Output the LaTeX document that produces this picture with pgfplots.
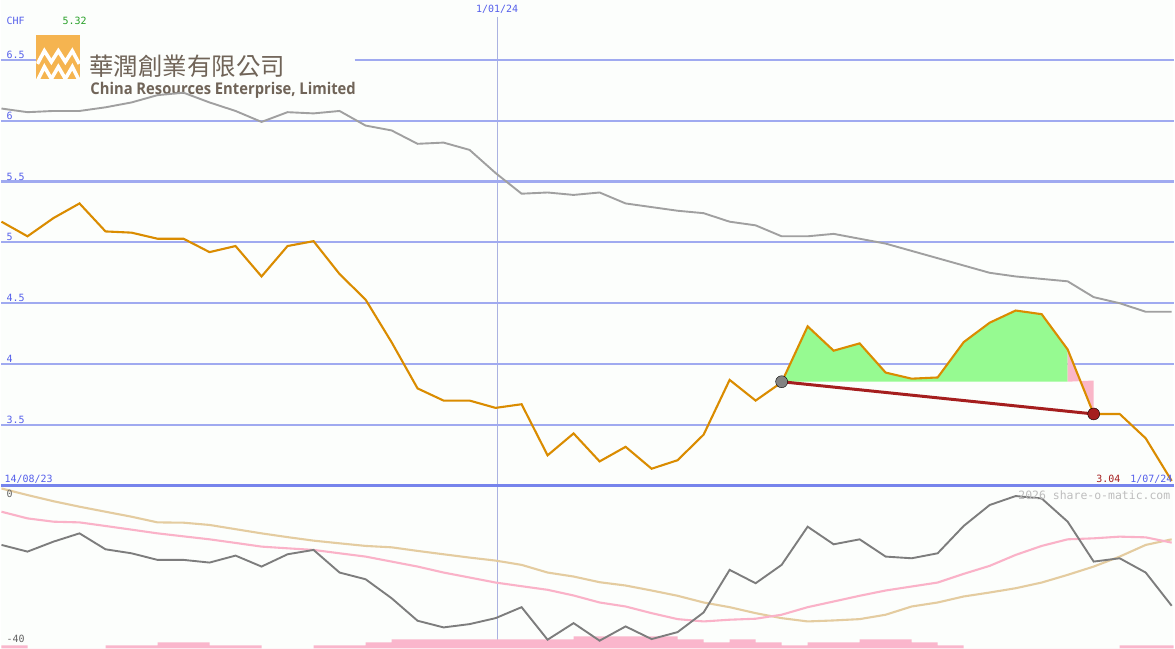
\documentclass[border=0pt]{standalone}
\usepackage{fontspec}
\usepackage{graphicx}
\usepackage{pgfplots}
\usepackage{pgfplotstable}
\pgfplotsset{compat=1.18}
\setmonofont{DejaVu Sans Mono}
\newfontfamily\cjk{Noto Sans CJK TC}
\newfontfamily\logofont{Open Sans}

\definecolor{bgcol}{RGB}{252,254,252}
\definecolor{gridc}{RGB}{160,170,240}
\definecolor{basec}{RGB}{118,132,236}
\definecolor{lbl}{RGB}{85,95,235}
\definecolor{orangec}{RGB}{218,140,0}
\definecolor{greyup}{RGB}{160,160,160}
\definecolor{greydark}{RGB}{125,125,125}
\definecolor{pinkl}{RGB}{250,178,200}
\definecolor{tanc}{RGB}{228,204,160}
\definecolor{greenf}{RGB}{150,250,145}
\definecolor{pinkf}{RGB}{250,182,200}
\definecolor{trendc}{RGB}{165,30,30}
\definecolor{dotgrey}{RGB}{130,130,130}
\definecolor{volc}{RGB}{250,182,204}
\definecolor{logoorange}{RGB}{245,180,80}
\definecolor{logotext}{RGB}{112,100,88}
\definecolor{wm}{RGB}{190,190,190}
\definecolor{greenlbl}{RGB}{40,160,40}
\definecolor{vline}{RGB}{170,178,225}
\definecolor{lowlbl}{RGB}{100,100,100}

\newcommand\lab{\ttfamily\fontsize{10bp}{10bp}\selectfont}

\pgfplotstableread{
i or gr osc pk tan
0 5.17 6.10 -12.33 -3.27 3.07
1 5.05 6.07 -14.15 -5.09 1.28
2 5.20 6.08 -11.43 -5.99 -0.41
3 5.32 6.08 -9.17 -6.18 -1.90
4 5.09 6.11 -13.52 -7.16 -3.27
5 5.08 6.15 -14.61 -8.16 -4.63
6 5.03 6.21 -16.41 -9.17 -6.18
7 5.03 6.23 -16.41 -9.99 -6.26
8 4.92 6.15 -17.14 -10.80 -6.88
9 4.97 6.08 -15.24 -11.78 -8.03
10 4.72 5.99 -18.23 -12.79 -9.17
11 4.97 6.07 -14.88 -13.25 -10.20
12 5.01 6.06 -13.69 -13.69 -11.16
13 4.74 6.08 -19.86 -14.61 -11.89
14 4.53 5.96 -21.69 -15.51 -12.60
15 4.18 5.92 -26.86 -16.87 -12.98
16 3.80 5.81 -33.01 -18.23 -13.96
17 3.70 5.82 -34.83 -19.86 -14.88
18 3.70 5.76 -33.93 -21.22 -15.78
19 3.64 5.57 -32.30 -22.59 -16.60
20 3.67 5.40 -29.31 -23.59 -17.77
21 3.25 5.41 -38.18 -24.57 -19.86
22 3.43 5.39 -33.66 -26.12 -20.95
23 3.20 5.41 -38.45 -28.03 -22.50
24 3.32 5.32 -34.56 -29.12 -23.40
25 3.14 5.29 -38.01 -30.94 -24.76
26 3.21 5.26 -36.11 -32.57 -26.20
27 3.42 5.24 -30.75 -33.20 -28.03
28 3.87 5.17 -19.13 -32.73 -29.31
29 3.70 5.14 -22.78 -32.46 -30.94
30 3.85 5.05 -17.77 -31.37 -32.30
31 4.31 5.05 -7.35 -29.31 -33.20
32 4.11 5.07 -12.16 -27.76 -32.93
33 4.17 5.03 -10.80 -26.20 -32.57
34 3.93 4.99 -15.51 -24.76 -31.37
35 3.88 4.93 -15.97 -23.67 -29.12
36 3.89 4.87 -14.61 -22.59 -28.03
37 4.18 4.81 -7.16 -20.22 -26.39
38 4.34 4.75 -1.44 -18.04 -25.31
39 4.44 4.72 1.01 -15.05 -24.14
40 4.41 4.70 0.35 -12.60 -22.59
41 4.12 4.68 -5.99 -10.80 -20.49
42 3.59 4.55 -16.87 -10.53 -18.23
43 3.59 4.50 -15.97 -10.07 -15.51
44 3.39 4.43 -19.86 -10.26 -12.33
45 3.04 4.43 -28.93 -11.70 -10.80
}\data

\begin{document}
\begin{tikzpicture}
\begin{scope}[x=1bp,y=-1bp]
\fill[bgcol] (0,0) rectangle (1175,650);
\draw[vline, line width=1.2bp] (497,17) -- (497,643);
% logo
\fill[logoorange] (35,35) rectangle (79,79);
\begin{scope}
\clip (35,35) rectangle (79,79);
\draw[white, line width=3.6bp] (36,64) -- (43,51) -- (50,62) -- (57,51) -- (64,62) -- (71,51) -- (78,64);
\draw[white, line width=3.6bp] (36,81) -- (43,67) -- (50,79) -- (57,67) -- (64,79) -- (71,67) -- (78,81);
\end{scope}
\node[anchor=base west, inner sep=0, text=logotext, font=\cjk\fontsize{24.5bp}{25bp}\selectfont] at (88,76) {華潤創業有限公司};
\node[anchor=base west, inner sep=0, text=logotext] at (89,95) {\resizebox{266bp}{12.3bp}{\logofont\bfseries China Resources Enterprise, Limited}};
\end{scope}

\begin{axis}[at={(0bp,0bp)}, anchor=north west, width=1175bp, height=487bp, scale only axis,
  xmin=0, xmax=45.07, ymin=3, ymax=6.9918, hide axis, clip=false]
\addplot[gridc, line width=2.1bp, mark=none] coordinates {(0,6.5) (1.34,6.5)};
\addplot[gridc, line width=2.1bp, mark=none] coordinates {(13.58,6.5) (45.07,6.5)};
\pgfplotsinvokeforeach{3.5,4,4.5,5,5.5,6}{
  \addplot[gridc, line width=2.1bp, mark=none] coordinates {(0,#1) (45.07,#1)};
}
\addplot[basec, line width=3bp, mark=none] coordinates {(0,3) (45.07,3)};
\addplot[greyup, line width=1.9bp, mark=none] table[x=i,y=gr]{\data};
\addplot[fill=greenf, draw=none, mark=none] coordinates {(30,3.855) (31,4.31) (32,4.11) (33,4.17) (34,3.93) (35,3.88) (36,3.89) (37,4.18) (38,4.34) (39,4.44) (40,4.41) (41,4.12) (41,3.855)} -- cycle;
\addplot[fill=pinkf, draw=none, mark=none] coordinates {(41,4.12) (42,3.59) (42,3.865) (41,3.855)} -- cycle;
\addplot[trendc, line width=3bp, mark=none] coordinates {(30,3.855) (42,3.59)};
\addplot[only marks, mark=*, mark size=6bp, mark options={fill=dotgrey, draw=none}] coordinates {(30,3.855)};
\addplot[only marks, mark=*, mark size=6bp, mark options={fill=trendc, draw=none}] coordinates {(42,3.59)};
\addplot[orangec, line width=2.1bp, mark=none] table[x=i,y=or]{\data};
\end{axis}

\begin{axis}[at={(0bp,-488bp)}, anchor=north west, width=1175bp, height=162bp, scale only axis,
  xmin=0, xmax=45.07, ymin=0, ymax=54, hide axis]
\addplot[fill=volc, draw=none, const plot, mark=none] coordinates {(0,1) (1,0) (4,1) (6,2) (8,1) (10,0) (12,1) (14,2) (15,3) (22,4) (26,3) (27,2) (28,3) (29,2) (30,1) (31,2) (33,3) (35,2) (36,1) (37,0) (43,1) (45.07,1)} \closedcycle;
\end{axis}

\begin{axis}[at={(0bp,-488bp)}, anchor=north west, width=1175bp, height=162bp, scale only axis,
  xmin=0, xmax=45.07, ymin=-40.54, ymax=3.54, hide axis, clip=false]
\addplot[tanc, line width=2.1bp, mark=none] table[x=i,y=tan]{\data};
\addplot[pinkl, line width=2.1bp, mark=none] table[x=i,y=pk]{\data};
\addplot[greydark, line width=1.9bp, mark=none] table[x=i,y=osc]{\data};
\end{axis}

\begin{scope}[x=1bp,y=-1bp]
\tikzset{every node/.style={inner sep=0, font=\lab}}
\node[anchor=west, text=lbl] at (5,21) {CHF};
\node[anchor=west, text=greenlbl] at (61,21) {5.32};
\node[anchor=west, text=lbl] at (5,55) {6.5};
\node[anchor=west, text=lbl] at (5,116) {6};
\node[anchor=west, text=lbl] at (5,177) {5.5};
\node[anchor=west, text=lbl] at (5,238) {5};
\node[anchor=west, text=lbl] at (5,299) {4.5};
\node[anchor=west, text=lbl] at (5,360) {4};
\node[anchor=west, text=lbl] at (5,421) {3.5};
\node[anchor=center, text=lbl] at (497,9) {1/01/24};
\node[anchor=west, text=lbl] at (3,480) {14/08/23};
\node[anchor=east, text=lbl] at (1174,480) {1/07/24};
\node[anchor=east, text=trendc] at (1122,480) {3.04};
\node[anchor=west, text=lowlbl] at (5,495) {0};
\node[anchor=west, text=lowlbl] at (5,641) {-40};
\node[anchor=east, text=wm, font=\ttfamily\fontsize{11.5bp}{12bp}\selectfont] at (1172,496) {2026 share-o-matic.com};
\end{scope}
\end{tikzpicture}
\end{document}
